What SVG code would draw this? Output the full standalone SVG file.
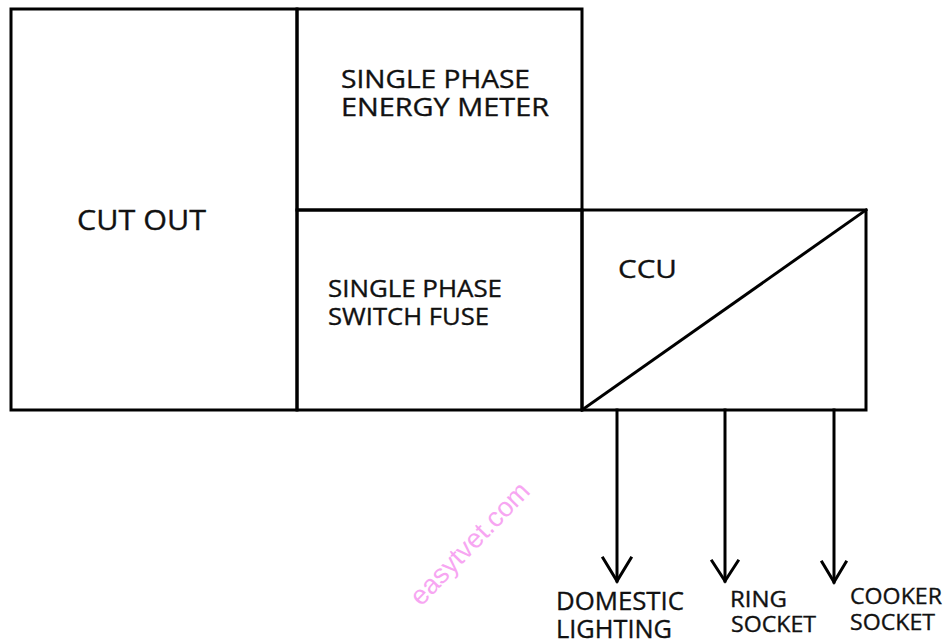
<svg xmlns="http://www.w3.org/2000/svg" width="948" height="643" viewBox="0 0 948 643">
<defs>
<style>
.box{fill:none;stroke:#000;stroke-width:3}
.ln{fill:none;stroke:#000;stroke-width:3;stroke-linecap:square}
.t{font-family:"Open Sans","Noto Sans","DejaVu Sans",sans-serif;fill:#111;stroke:#111;stroke-width:0.35}
.wm{font-family:"Liberation Sans",Arial,sans-serif;fill:#f7a6f2;font-size:27px}
</style>
</defs>
<rect width="948" height="643" fill="#fff"/>
<g id="cutout">
<rect class="box" x="11" y="9" width="286" height="401"/>
<text class="t" x="77" y="230" font-size="28" textLength="129" lengthAdjust="spacingAndGlyphs">CUT OUT</text>
</g>
<g id="meter">
<rect class="box" x="297" y="9" width="285" height="201"/>
<text class="t" x="341" y="88" font-size="25" textLength="189" lengthAdjust="spacingAndGlyphs">SINGLE PHASE</text>
<text class="t" x="341" y="116" font-size="25" textLength="208" lengthAdjust="spacingAndGlyphs">ENERGY METER</text>
</g>
<g id="switchfuse">
<rect class="box" x="297" y="210" width="285" height="200"/>
<text class="t" x="328" y="296.5" font-size="23.5" textLength="174" lengthAdjust="spacingAndGlyphs">SINGLE PHASE</text>
<text class="t" x="328" y="324.5" font-size="23.5" textLength="161" lengthAdjust="spacingAndGlyphs">SWITCH FUSE</text>
</g>
<g id="ccu">
<rect class="box" x="582" y="210" width="284" height="200"/>
<line class="ln" x1="582" y1="410" x2="866" y2="210"/>
<text class="t" x="618" y="278" font-size="26" textLength="59" lengthAdjust="spacingAndGlyphs">CCU</text>
</g>
<g id="connectors">
<line class="ln" x1="617" y1="410" x2="617" y2="581"/>
<polyline class="ln" points="603,558 617,581 631,558"/>
<line class="ln" x1="725" y1="410" x2="725" y2="581"/>
<polyline class="ln" points="712,561 725,581 738,561"/>
<line class="ln" x1="834" y1="410" x2="834" y2="582"/>
<polyline class="ln" points="822,562 834,582 846,562"/>
</g>
<g id="domestic">
<text class="t" x="556" y="610" font-size="25" textLength="128" lengthAdjust="spacingAndGlyphs">DOMESTIC</text>
<text class="t" x="556" y="638" font-size="25" textLength="116" lengthAdjust="spacingAndGlyphs">LIGHTING</text>
</g>
<g id="ring">
<text class="t" x="730" y="606.5" font-size="21.5" textLength="57" lengthAdjust="spacingAndGlyphs">RING</text>
<text class="t" x="731" y="631.5" font-size="21.5" textLength="85" lengthAdjust="spacingAndGlyphs">SOCKET</text>
</g>
<g id="cooker">
<text class="t" x="850" y="604" font-size="22.5" textLength="92" lengthAdjust="spacingAndGlyphs">COOKER</text>
<text class="t" x="850" y="630" font-size="22.5" textLength="85" lengthAdjust="spacingAndGlyphs">SOCKET</text>
</g>
<text class="wm" transform="translate(421,607) rotate(-46)">easytvet.com</text>
</svg>
